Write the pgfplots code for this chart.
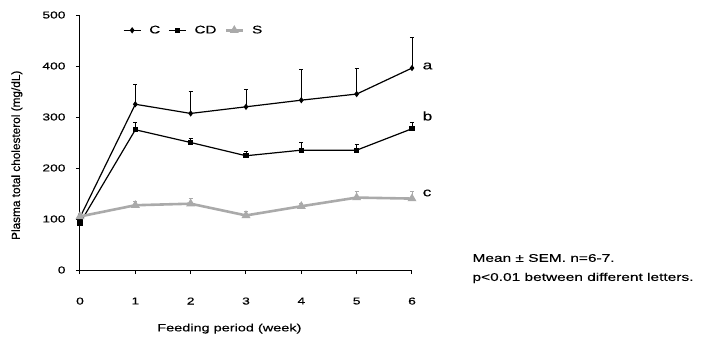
\documentclass[border=0pt]{standalone}
\usepackage{fontspec}
\setmainfont{Liberation Sans}[FakeStretch=1.38, FakeBold=0.4]
\newfontfamily\ylabfont{Liberation Sans}[FakeBold=0.4]
\usepackage{pgfplots}
\usepackage{pgfplotstable}
\pgfplotsset{compat=1.18}
\pgfplotstableread{
x y ey
0 103 6
1 325 38
2 307 43
3 320 35
4 333 61
5 345 51
6 396 61
}\dataC
\pgfplotstableread{
x y ey
0 92 8
1 275 15
2 250 8
3 224 9
4 235 16
5 235 12
6 277 13
}\dataCD
\pgfplotstableread{
x y ey
0 105 5
1 127 8
2 130 10
3 107 8
4 125 6
5 142 12
6 140 15
}\dataS
\definecolor{sgray}{RGB}{170,170,170}
\begin{document}
\begin{tikzpicture}[x=1pt,y=1pt]
\useasboundingbox (0,0) rectangle (705,338);
\begin{axis}[
  at={(80pt,68pt)}, anchor=south west,
  scale only axis, width=332pt, height=255pt,
  xmin=0, xmax=6, ymin=0, ymax=500,
  axis x line=bottom, axis y line=left,
  axis line style={-, line width=1pt},
  xtick={0,1,2,3,4,5,6}, ytick={0,100,200,300,400,500},
  tick align=outside, major tick length=4pt,
  tick style={black, line width=1pt},
  /pgf/number format/assume math mode=true,
  tick label style={font=\fontsize{10}{12}\selectfont},
  xticklabel style={yshift=-20pt},
  yticklabel style={xshift=-7pt},
  clip=false,
  xlabel={Feeding period (week)},
  ylabel={Plasma total cholesterol (mg/dL)},
  xlabel style={at={(axis description cs:0.45,-0.23)}, anchor=center, font=\fontsize{10.5}{13}\selectfont},
  ylabel style={at={(axis description cs:-0.19,0.45)}, anchor=center, rotate=0, font=\ylabfont\fontsize{11.8}{13}\selectfont},
  legend columns=3,
  legend style={at={(axis description cs:0.12,0.94)}, anchor=west, draw=none, fill=none,
    font=\fontsize{11}{14}\selectfont, column sep=6pt},
  error bars/y dir=plus, error bars/y explicit,
]
\addplot[black, line width=1.2pt, mark=diamond*, mark size=2.2pt,
  error bars/error bar style={line width=0.8pt},
  error bars/error mark options={rotate=90, mark size=2pt, line width=0.8pt}]
  table[x=x, y=y, y error=ey] {\dataC};
\addlegendentry{C}
\addplot[black, line width=1.2pt, mark=square*, mark size=2pt,
  error bars/error bar style={line width=0.8pt},
  error bars/error mark options={rotate=90, mark size=2pt, line width=0.8pt}]
  table[x=x, y=y, y error=ey] {\dataCD};
\addlegendentry{CD}
\addplot[sgray, line width=2.6pt, mark=triangle*, mark size=2.6pt,
  error bars/error bar style={line width=0.9pt, sgray},
  error bars/error mark options={rotate=90, mark size=2pt, line width=0.9pt, sgray}]
  table[x=x, y=y, y error=ey] {\dataS};
\addlegendentry{S}
\node[anchor=west, font=\fontsize{12.5}{15}\selectfont] at (axis cs:6.13,400) {a};
\node[anchor=west, font=\fontsize{12.5}{15}\selectfont] at (axis cs:6.13,302) {b};
\node[anchor=west, font=\fontsize{12.5}{15}\selectfont] at (axis cs:6.13,151) {c};
\end{axis}
\node[anchor=west, font=\fontsize{11.2}{13}\selectfont] at (469,80) {Mean ± SEM. n=6-7.};
\node[anchor=west, font=\fontsize{11.2}{13}\selectfont] at (469,60) {p<0.01 between different letters.};
\end{tikzpicture}
\end{document}
